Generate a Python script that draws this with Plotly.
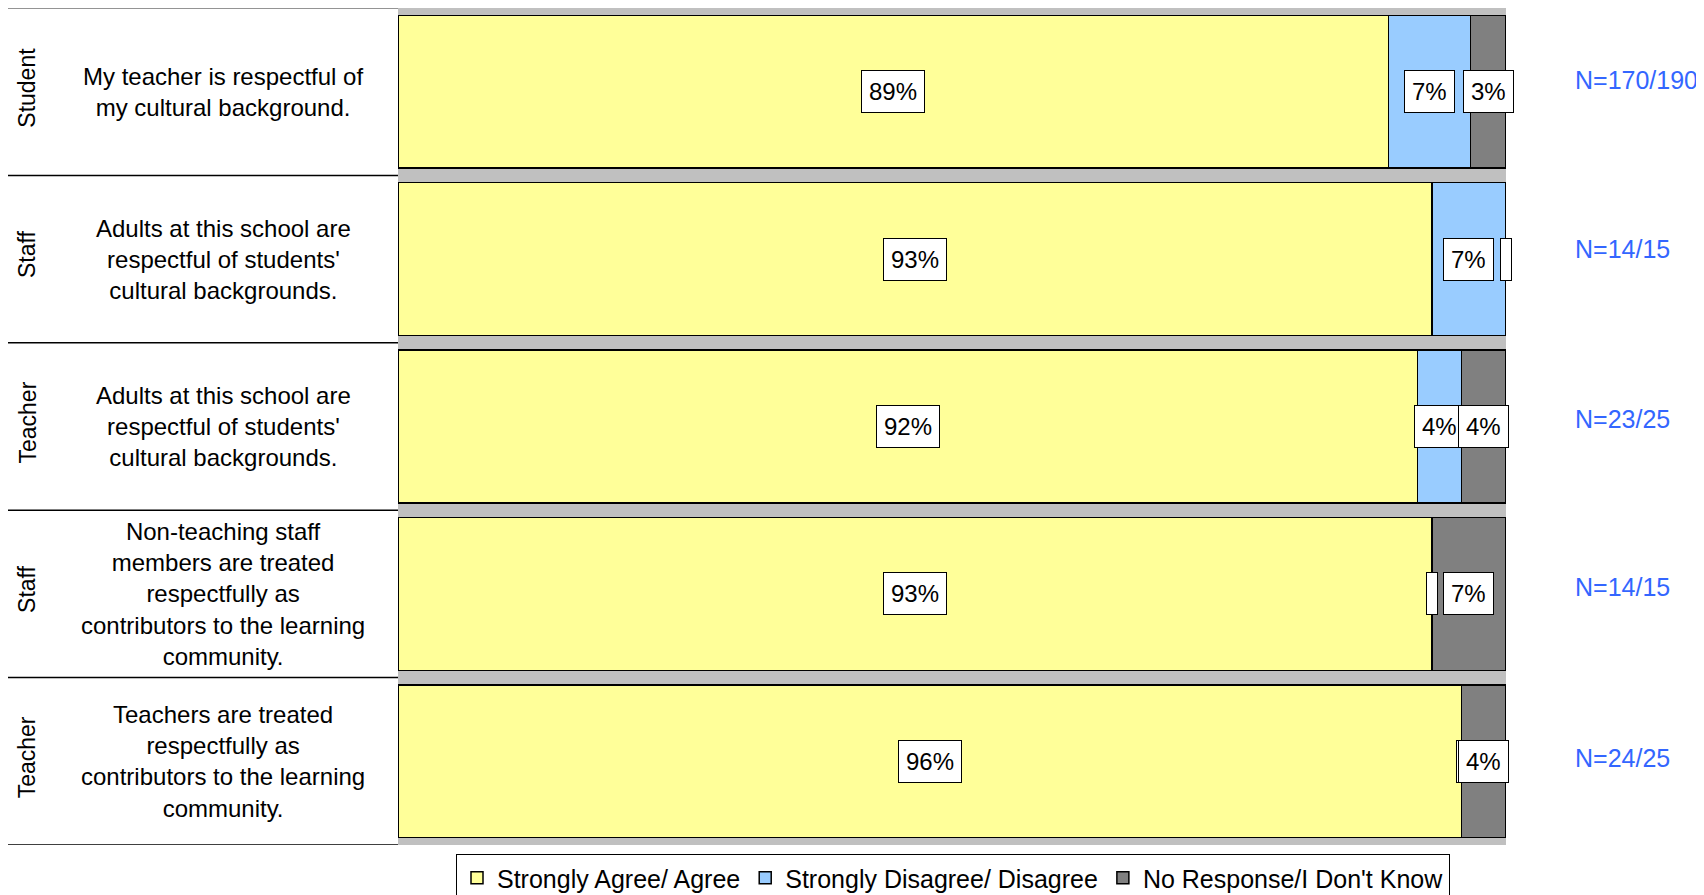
import plotly.graph_objects as go

# ---------------- data ----------------
groups = ["Student", "Staff", "Teacher", "Staff", "Teacher"]
questions = [
    "My teacher is respectful of<br>my cultural background.",
    "Adults at this school are<br>respectful of students'<br>cultural backgrounds.",
    "Adults at this school are<br>respectful of students'<br>cultural backgrounds.",
    "Non-teaching staff<br>members are treated<br>respectfully as<br>contributors to the learning<br>community.",
    "Teachers are treated<br>respectfully as<br>contributors to the learning<br>community.",
]
agree = [89.4, 93.3, 92.0, 93.3, 96.0]
disagree = [7.4, 6.7, 4.0, 0.0, 0.0]
no_response = [3.2, 0.0, 4.0, 6.7, 4.0]
n_labels = ["N=170/190", "N=14/15", "N=23/25", "N=14/15", "N=24/25"]
series_names = ["Strongly Agree/ Agree", "Strongly Disagree/ Disagree", "No Response/I Don't Know"]

# ---------------- style ----------------
colors = ["#FFFF99", "#99CCFF", "#808080"]
FONT = "Liberation Sans, Arial, sans-serif"
# page has an 8px body margin; figure coordinates below are page - 8
W, H = 1696, 887
ML, MR, MT, MB = 390, 198, 0, 50
PW = W - ML - MR
PH = H - MT - MB

rows = list(range(len(groups)))
series = [agree, disagree, no_response]

fig = go.Figure()
for name, vals, col in zip(series_names, series, colors):
    fig.add_trace(go.Bar(
        y=rows, x=vals, orientation="h", name=name,
        marker=dict(color=col, line=dict(color="black", width=1.5)),
        width=0.913, hoverinfo="skip",
    ))

annotations = []
# value labels
for vals_idx, vals in enumerate(series):
    for r in rows:
        start = sum(series[k][r] for k in range(vals_idx))
        v = vals[r]
        centre = start + v / 2
        if round(v) > 0:
            annotations.append(dict(
                x=centre, y=r, xref="x", yref="y", text=f"{round(v)}%",
                showarrow=False, font=dict(family=FONT, size=24, color="black"),
                bgcolor="white", bordercolor="black", borderwidth=1, borderpad=7,
                height=27,
            ))
        else:
            annotations.append(dict(
                x=centre, y=r, xref="x", yref="y", text=" ",
                showarrow=False, font=dict(family=FONT, size=8, color="black"),
                bgcolor="white", bordercolor="black", borderwidth=1, borderpad=2,
                width=6, height=37,
            ))

# question text, group labels, N labels
q_x = (215 - ML) / PW
g_x = (19 - ML) / PW
n_x = (1565 - ML) / PW
n_shift = [12, 10, 8, 7, 3]
for r in rows:
    annotations.append(dict(
        x=q_x, y=r, xref="paper", yref="y", text=questions[r], showarrow=False,
        font=dict(family=FONT, size=24, color="black"), align="center",
        xanchor="center", yanchor="middle",
    ))
    annotations.append(dict(
        x=g_x, y=r, xref="paper", yref="y", text=groups[r], showarrow=False,
        font=dict(family=FONT, size=23, color="black"), textangle=-90,
        xanchor="center", yanchor="middle", yshift=4,
    ))
    annotations.append(dict(
        x=n_x, y=r, xref="paper", yref="y", text=n_labels[r], showarrow=False,
        font=dict(family=FONT, size=25, color="#3366FF"),
        xanchor="left", yanchor="middle", yshift=n_shift[r],
    ))

# table lines on the left
shapes = []
x_left = (0 - ML) / PW
for i in range(len(rows) + 1):
    yb = i - 0.5
    shapes.append(dict(
        type="line", xref="paper", yref="y", x0=x_left, x1=0, y0=yb, y1=yb,
        line=dict(color="#707070" if i == 0 else "black", width=1.5),
    ))

fig.update_layout(
    width=W, height=H,
    margin=dict(l=ML, r=MR, t=MT, b=MB, pad=0, autoexpand=False),
    barmode="stack",
    plot_bgcolor="#C0C0C0", paper_bgcolor="white",
    xaxis=dict(range=[0, 100], showticklabels=False, showgrid=False,
               zeroline=False, ticks="", fixedrange=True),
    yaxis=dict(range=[len(rows) - 0.5, -0.5], showticklabels=False,
               showgrid=False, zeroline=False, ticks=""),
    showlegend=True,
    legend=dict(orientation="h", x=(945 - ML) / PW, xanchor="center",
                y=-9 / PH, yanchor="top",
                font=dict(family=FONT, size=25, color="black"),
                bordercolor="black", borderwidth=1, bgcolor="white",
                itemwidth=30, tracegroupgap=0, traceorder="normal"),
    annotations=annotations,
    shapes=shapes,
)

fig.write_html("out.html")
